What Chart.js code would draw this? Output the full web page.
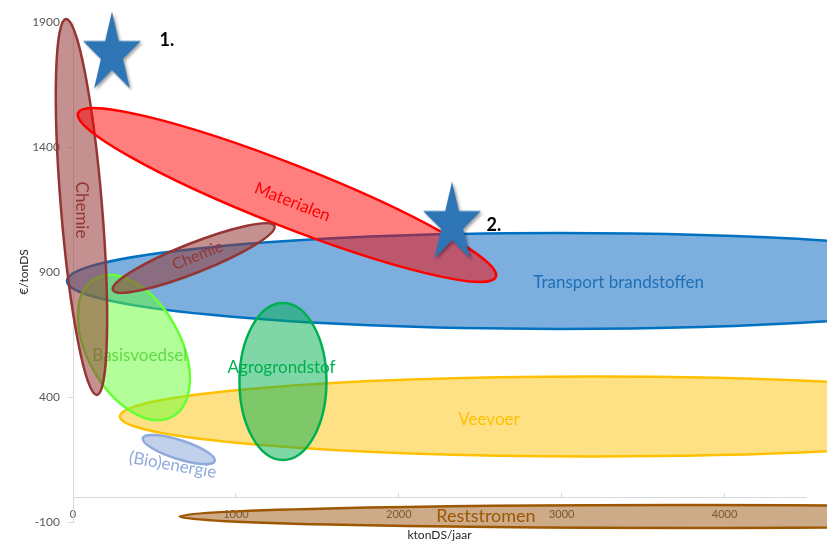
<!DOCTYPE html>
<html>
<head>
<meta charset="utf-8">
<script src="https://cdn.jsdelivr.net/npm/chart.js@4/dist/chart.umd.min.js"></script>
<style>
  html, body { margin: 0; padding: 0; background: #fff; }
  #wrap { width: 827px; height: 542px; }
</style>
</head>
<body>
<div id="wrap"><canvas id="chart" width="827" height="542"></canvas></div>
<script>
// axis ticks
const xTicks = [0, 1000, 2000, 3000, 4000];
const yTicks = [-100, 400, 900, 1400, 1900];

// market segments, drawn as ellipses (major axis endpoints in data units)
const segments = ['Veevoer', 'Transport brandstoffen', 'Basisvoedsel', 'Agrogrondstof', 'Chemie', 'Materialen', 'Chemie', '(Bio)energie', 'Reststromen'];
const axisX1 = [288, -37, 137, 1289, -43, 31, 245, 429, 655];
const axisY1 = [322, 864, 874, 776, 1912, 1536, 828, 236, -78];
const axisX2 = [6093, 6001, 611, 1289, 147, 2596, 1237, 870, 6901];
const axisY2 = [322, 864, 322, 148, 408, 880, 1084, 144, -78];
const widthRatio = [0.0844, 0.0974, 0.587, 0.554, 0.109, 0.138, 0.17, 0.25, 0.0225];
const labelX = [2554, 3350, 410, 1280, 55, 1347, 765, 612, 2535];
const labelY = [308, 856, 564, 516, 1148, 1180, 966, 128, -76];

// highlighted positions
const starNames = ['1.', '2.'];
const starX = [245, 2333];
const starY = [1784, 1104];
const starLabelX = [576, 2584];
const starLabelY = [1828, 1088];

// look of each segment (same order as segments)
const segStyle = [
  {fill: 'rgba(255,192,0,0.48)', stroke: '#ffc000', text: '#ffc000', rot: 0, size: 17},
  {fill: 'rgba(91,155,213,0.8)', stroke: '#0070c0', text: '#1f6fb8', rot: 0, size: 17},
  {fill: 'rgba(102,255,51,0.5)', stroke: '#66ff33', text: '#62d94a', rot: 0, size: 17},
  {fill: 'rgba(0,176,80,0.5)', stroke: '#00b050', text: '#00b050', rot: 0, size: 17},
  {fill: 'rgba(150,54,52,0.55)', stroke: '#943634', text: '#943634', rot: 90, size: 17},
  {fill: 'rgba(255,0,0,0.5)', stroke: '#ff0000', text: '#ff0000', rot: 21.4, size: 17},
  {fill: 'rgba(150,54,52,0.55)', stroke: '#943634', text: '#943634', rot: -22, size: 16},
  {fill: 'rgba(142,170,219,0.55)', stroke: '#8eaadb', text: '#8eaadb', rot: 10, size: 17},
  {fill: 'rgba(156,87,20,0.5)', stroke: '#9c5700', text: '#9c5700', rot: 0, size: 18}
];

const FONT = "Lato, 'Open Sans', sans-serif";
Chart.defaults.font.family = FONT;

function makeStar(w, h) {
  const c = document.createElement('canvas');
  c.width = w + 8; c.height = h + 8;
  const g = c.getContext('2d');
  const R = h / 1.809, r = R * 0.382;
  const sx = w / (2 * R * 0.951);
  const cx = c.width / 2 - 1, cy = 3 + R;
  g.beginPath();
  for (let k = 0; k < 10; k++) {
    const ang = (-90 + k * 36) * Math.PI / 180;
    const rad = k % 2 === 0 ? R : r;
    const px = cx + Math.cos(ang) * rad * sx;
    const py = cy + Math.sin(ang) * rad;
    if (k === 0) g.moveTo(px, py); else g.lineTo(px, py);
  }
  g.closePath();
  g.shadowColor = 'rgba(0,0,0,0.35)';
  g.shadowBlur = 3;
  g.shadowOffsetX = 2;
  g.shadowOffsetY = 2;
  g.fillStyle = '#2e75b6';
  g.fill();
  return c;
}
const starImg = makeStar(58, 77);

const ellipsePlugin = {
  id: 'ellipses',
  beforeDatasetsDraw(chart) {
    const {ctx, scales: {x, y}} = chart;
    segments.forEach((name, i) => {
      const st = segStyle[i];
      const x1 = x.getPixelForValue(axisX1[i]), y1 = y.getPixelForValue(axisY1[i]);
      const x2 = x.getPixelForValue(axisX2[i]), y2 = y.getPixelForValue(axisY2[i]);
      const a = Math.hypot(x2 - x1, y2 - y1) / 2;
      const b = a * widthRatio[i];
      ctx.save();
      ctx.beginPath();
      ctx.ellipse((x1 + x2) / 2, (y1 + y2) / 2, a, b, Math.atan2(y2 - y1, x2 - x1), 0, Math.PI * 2);
      ctx.fillStyle = st.fill;
      ctx.fill();
      ctx.lineWidth = 2.5;
      ctx.strokeStyle = st.stroke;
      ctx.stroke();
      // label
      ctx.translate(x.getPixelForValue(labelX[i]), y.getPixelForValue(labelY[i]));
      ctx.rotate(st.rot * Math.PI / 180);
      ctx.font = st.size + 'px ' + FONT;
      ctx.fillStyle = st.text;
      ctx.textAlign = 'center';
      ctx.textBaseline = 'middle';
      ctx.fillText(name, 0, 0);
      ctx.restore();
    });
  },
  afterDatasetsDraw(chart) {
    const {ctx, scales: {x, y}} = chart;
    ctx.save();
    ctx.font = 'bold 18px ' + FONT;
    ctx.fillStyle = '#000';
    ctx.textAlign = 'center';
    ctx.textBaseline = 'middle';
    starNames.forEach((t, i) => {
      ctx.fillText(t, x.getPixelForValue(starLabelX[i]), y.getPixelForValue(starLabelY[i]));
    });
    ctx.restore();
  }
};

new Chart(document.getElementById('chart'), {
  type: 'scatter',
  data: {
    datasets: [{
      data: starX.map((v, i) => ({x: v, y: starY[i]})),
      pointStyle: starImg,
      clip: false
    }]
  },
  options: {
    responsive: false,
    animation: false,
    events: [],
    layout: {padding: {top: 22, bottom: 20, right: 21, left: 0}},
    plugins: {legend: {display: false}, tooltip: {enabled: false}},
    scales: {
      x: {
        type: 'linear', min: 0, max: 4500,
        position: {y: 0},
        z: 1,
        afterBuildTicks: s => { s.ticks = xTicks.map(v => ({value: v})); },
        afterFit: s => { s.height = 45; },
        border: {color: '#d9d9d9'},
        grid: {drawOnChartArea: false, tickLength: -5, color: '#d9d9d9'},
        ticks: {color: '#595959', padding: 16, font: {size: 11}, callback: v => String(v)},
        title: {display: true, text: 'ktonDS/jaar', color: '#262626', font: {size: 12}, padding: {top: 0, bottom: 0}}
      },
      y: {
        type: 'linear', min: -100, max: 1900,
        afterBuildTicks: s => { s.ticks = yTicks.map(v => ({value: v})); },
        afterFit: s => { s.width = 73; },
        border: {color: '#d9d9d9'},
        grid: {drawOnChartArea: false, tickLength: 5, color: '#d9d9d9'},
        ticks: {color: '#595959', padding: 8, font: {size: 12}, callback: v => String(v)},
        title: {display: true, text: '€/tonDS', color: '#262626', font: {size: 12}, padding: {top: 17, bottom: 0}}
      }
    }
  },
  plugins: [ellipsePlugin]
});
</script>
</body>
</html>
